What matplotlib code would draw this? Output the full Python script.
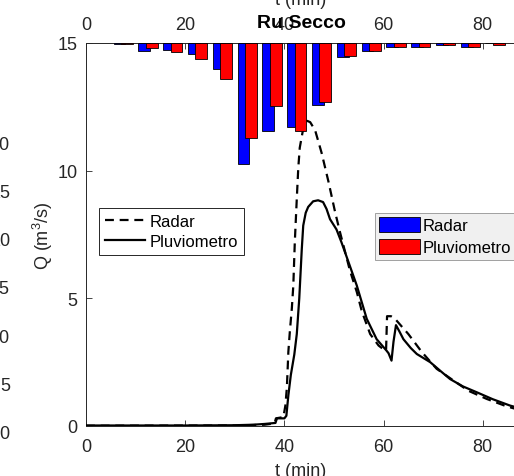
import matplotlib
matplotlib.use('Agg')
import matplotlib.pyplot as plt
from matplotlib.patches import Patch
from matplotlib.lines import Line2D

plt.rcParams['font.family'] = ['Liberation Sans', 'DejaVu Sans']
plt.rcParams['mathtext.fontset'] = 'custom'
plt.rcParams['mathtext.rm'] = 'Liberation Sans'
plt.rcParams['mathtext.default'] = 'regular'

# ---------------- data ----------------
t_pluv = [0, 10, 20, 30, 33.7, 36, 38.2, 38.5, 40.0, 40.4, 40.8, 41.3, 42.0, 42.5, 43.0,
          43.5, 43.8, 44.3, 44.8, 45.8, 46.8, 47.8, 48.5, 49.2, 50.5, 51.5, 52.6, 54.6,
          56.6, 58.6, 60.6, 61.0, 61.6, 62.0, 62.5, 63.2, 64.0, 65.5, 66.7, 69.4, 71.5,
          73.4, 76.0, 78.8, 82.0, 85.5, 87.0]
q_pluv = [0.02, 0.02, 0.02, 0.03, 0.05, 0.08, 0.12, 0.3, 0.3, 0.4, 1.2, 2.0, 2.8, 3.6, 5.0,
          6.9, 7.85, 8.35, 8.58, 8.8, 8.84, 8.77, 8.5, 8.1, 7.7, 7.2, 6.6, 5.5,
          4.2, 3.4, 2.95, 2.85, 2.56, 3.3, 3.95, 3.7, 3.4, 3.05, 2.82, 2.5, 2.15,
          1.84, 1.55, 1.32, 1.05, 0.8, 0.72]

t_radar = [0, 30, 36, 38.0, 38.3, 39.8, 40.2, 40.5, 40.8, 41.1, 41.5, 41.8, 42.1, 42.5,
           42.8, 43.1, 43.8, 44.6, 45.2, 46.2, 47.5, 48.9, 50.2, 51.2, 53.2, 54.6, 55.6,
           57.3, 59.0, 60.0, 60.5, 60.7, 61.5, 62.3, 65.0, 67.7, 70.7, 74.1, 77.1, 80.8,
           84.8, 87.0]
q_radar = [0.01, 0.02, 0.05, 0.1, 0.3, 0.35, 0.8, 1.5, 2.9, 3.7, 4.6, 5.5, 7.2, 8.9,
           10.1, 10.9, 11.65, 11.95, 11.9, 11.58, 10.7, 9.56, 8.4, 7.6, 6.1, 5.25, 4.5,
           3.6, 3.15, 3.0, 2.95, 4.3, 4.3, 4.2, 3.6, 2.9, 2.24, 1.78, 1.38, 1.06,
           0.77, 0.65]

t_rain = [7.5, 12.5, 17.5, 22.5, 27.5, 32.5, 37.5, 42.5, 47.5, 52.5, 57.5, 62.5, 67.5,
          72.5, 77.5, 82.5]
rain_radar = [0.1, 1.25, 1.1, 1.7, 4.1, 19.0, 13.8, 13.2, 9.7, 2.2, 1.25, 0.6, 0.6,
              0.3, 0.6, 0.0]
rain_pluv = [0.1, 0.8, 1.4, 2.5, 5.6, 14.9, 9.9, 13.8, 9.2, 2.0, 1.25, 0.6, 0.6,
             0.3, 0.6, 0.3]

left_ticks = [0, 5, 10, 15, 20, 25, 30]

title = 'Ru Secco'
xlabel = 't (min)'
ylabel = 'Q (m$^3$/s)'

# ---------------- figure ----------------
W, H = 514, 477
fig = plt.figure(figsize=(W / 100, H / 100), dpi=100)
fig.patch.set_facecolor('white')

def fx(px):
    return px / W

def fy(py):
    return 1 - py / H

AX_L, AX_R, AX_T, AX_B = 86, 516, 44, 427
pos = [fx(AX_L), fy(AX_B), fx(AX_R) - fx(AX_L), fy(AX_T) - fy(AX_B)]
axc = '#262626'

ax = fig.add_axes(pos)
ax.plot(t_pluv, q_pluv, color='k', lw=1.6, zorder=3)
ax.plot(t_radar, q_radar, color='k', lw=1.6, dashes=(4, 2.6), zorder=3)
ax.set_xlim(0, 86.7)
ax.set_ylim(0, 15)
ax.set_xticks([0, 20, 40, 60, 80])
ax.set_yticks([0, 5, 10, 15])
ax.tick_params(axis='both', direction='in', length=4, width=0.6, colors=axc,
               labelsize=13, top=False, right=False)
ax.tick_params(axis='x', pad=9)
ax.tick_params(axis='y', pad=6)
for s in ax.spines.values():
    s.set_color(axc)
    s.set_linewidth(0.7)
ax.spines['right'].set_visible(False)

ax.set_xlabel(xlabel, fontsize=13, color=axc)
ax.xaxis.set_label_coords(0.5, (AX_B - 476) / (AX_B - AX_T))
ax.xaxis.label.set_va('baseline')
ax.set_ylabel(ylabel, fontsize=13, color=axc)
ax.yaxis.set_label_coords((43 - AX_L) / (AX_R - AX_L), 0.5)
ax.yaxis.label.set_va('center')
ax.yaxis.label.set_ha('center')

# rainfall bars hanging from the top
ax2 = fig.add_axes(pos, frameon=False)
ax2.patch.set_alpha(0)
ax2.bar([t - 0.75 for t in t_rain], rain_radar, width=2.4, color='#0000ff',
        edgecolor='k', linewidth=0.6, zorder=2)
ax2.bar([t + 0.75 for t in t_rain], rain_pluv, width=2.4, color='#ff0000',
        edgecolor='k', linewidth=0.6, zorder=2)
ax2.set_xlim(0, 86.7)
ax2.set_ylim(60, 0)
ax2.xaxis.tick_top()
ax2.set_xticks([0, 20, 40, 60, 80])
ax2.yaxis.set_visible(False)
ax2.tick_params(axis='x', direction='in', length=4, width=0.6, colors=axc,
                labelsize=13, pad=7)
ax2.set_xlabel(xlabel, fontsize=13, color=axc)
ax2.xaxis.set_label_position('top')
ax2.xaxis.set_label_coords(0.5, (AX_B - 5) / (AX_B - AX_T))
ax2.xaxis.label.set_va('baseline')

fig.text(fx(301), fy(23), title, fontsize=14, fontweight='bold', color='k',
         ha='center', va='center')

# cropped neighbouring axis on the far left
ax3 = fig.add_axes([fx(14), fy(433), 0.01, fy(143) - fy(433)], frameon=False)
ax3.set_ylim(0, 30)
ax3.set_yticks(left_ticks)
ax3.set_xticks([])
ax3.tick_params(axis='y', length=0, labelsize=13, colors=axc, pad=3)

# legends
line_handles = [Line2D([], [], color='k', lw=1.6, dashes=(4, 2.6)),
                Line2D([], [], color='k', lw=1.6)]
leg1 = fig.legend(line_handles, ['Radar', 'Pluviometro'], loc='upper left',
                  bbox_to_anchor=(fx(99), fy(209)), borderaxespad=0, fontsize=12,
                  frameon=True, fancybox=False, handlelength=2.4, handletextpad=0.3,
                  borderpad=0.35, labelspacing=0.3)
leg1.get_frame().set_edgecolor(axc)
leg1.get_frame().set_linewidth(0.7)
leg1.get_frame().set_facecolor('white')
leg1.get_frame().set_alpha(1)

bar_handles = [Patch(facecolor='#0000ff', edgecolor='k', linewidth=0.6),
               Patch(facecolor='#ff0000', edgecolor='k', linewidth=0.6)]
leg2 = fig.legend(bar_handles, ['Radar', 'Pluviometro'], loc='upper left',
                  bbox_to_anchor=(fx(375), fy(214)), borderaxespad=0, fontsize=12,
                  frameon=True, fancybox=False, handlelength=2.45, handleheight=1.0,
                  handletextpad=0.15, borderpad=0.25, labelspacing=0.35)
leg2.get_frame().set_edgecolor('#a0a0a0')
leg2.get_frame().set_linewidth(0.7)
leg2.get_frame().set_facecolor('#f0f0f0')
leg2.get_frame().set_alpha(1)

fig.savefig('out.png', dpi=100)
